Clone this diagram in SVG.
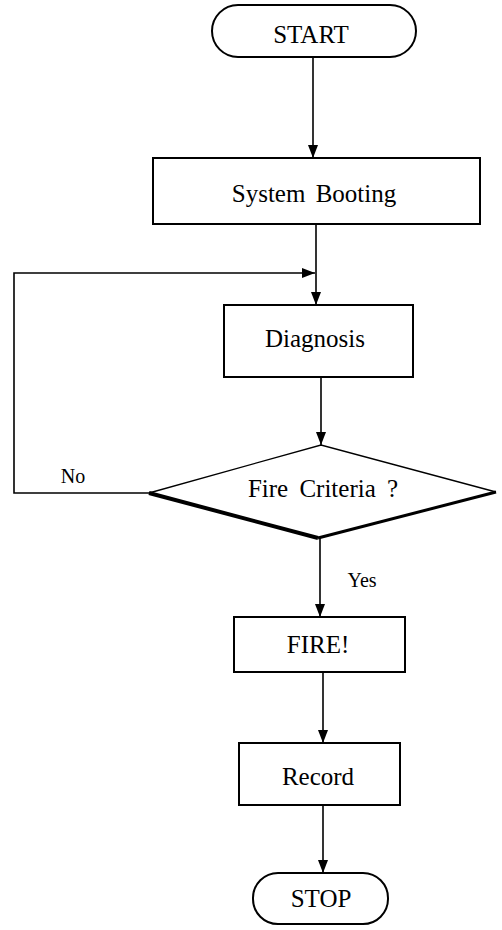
<svg xmlns="http://www.w3.org/2000/svg" width="502" height="930" viewBox="0 0 502 930">
<style>
.box{fill:#fff;stroke:#000;stroke-width:2}
.t{font-family:"Liberation Serif","Times New Roman",serif;font-size:25px;fill:#000;text-anchor:middle}
.lbl{font-family:"Liberation Serif","Times New Roman",serif;font-size:20px;fill:#000;text-anchor:middle}
.ln{fill:none;stroke:#000;stroke-width:1.6}
</style>
<defs>
<marker id="ah" viewBox="0 0 10 10" refX="10" refY="5" markerWidth="8" markerHeight="8" markerUnits="userSpaceOnUse" orient="auto">
<path d="M0,0 L10,5 L0,10 z" fill="#000"/>
</marker>
<marker id="ahb" viewBox="0 0 10 10" refX="10" refY="5" markerWidth="13" markerHeight="10" markerUnits="userSpaceOnUse" orient="auto" preserveAspectRatio="none">
<path d="M0,0 L10,5 L0,10 z" fill="#000"/>
</marker>
</defs>
<rect width="502" height="930" fill="#fff"/>
<g id="connectors">
<path class="ln" d="M313,57 V158" marker-end="url(#ahb)"/>
<path class="ln" d="M316,224 V305" marker-end="url(#ahb)"/>
<path class="ln" d="M150,493 H14 V273 H315" marker-end="url(#ahb)"/>
<path class="ln" d="M321,377 V445" marker-end="url(#ahb)"/>
<path class="ln" d="M320,538 V617" marker-end="url(#ahb)"/>
<path class="ln" d="M323,672 V743" marker-end="url(#ahb)"/>
<path class="ln" d="M323,805 V873" marker-end="url(#ahb)"/>
<text class="lbl" x="73" y="483">No</text>
<text class="lbl" x="362" y="587">Yes</text>
</g>
<g id="start">
<rect class="box" x="212" y="5" width="204" height="52" rx="26"/>
<text class="t" x="311" y="43">START</text>
</g>
<g id="booting">
<rect class="box" x="153" y="158" width="327" height="66"/>
<text class="t" x="314" y="202" word-spacing="4">System Booting</text>
</g>
<g id="diagnosis">
<rect class="box" x="224" y="305" width="189" height="72"/>
<text class="t" x="315" y="347">Diagnosis</text>
</g>
<g id="criteria">
<path d="M149,493 L321,445 L496,492" fill="none" stroke="#000" stroke-width="1.3"/>
<path d="M149,493 L318,538" fill="none" stroke="#000" stroke-width="4"/>
<path d="M318,538 L496,492" fill="none" stroke="#000" stroke-width="3"/>
<text class="t" x="323" y="497" word-spacing="5">Fire Criteria ?</text>
</g>
<g id="fire">
<rect class="box" x="234" y="617" width="171" height="55"/>
<text class="t" x="318" y="653">FIRE!</text>
</g>
<g id="record">
<rect class="box" x="239" y="743" width="161" height="62"/>
<text class="t" x="318" y="785">Record</text>
</g>
<g id="stop">
<rect class="box" x="253" y="873" width="135" height="51" rx="25"/>
<text class="t" x="321" y="907">STOP</text>
</g>
</svg>
